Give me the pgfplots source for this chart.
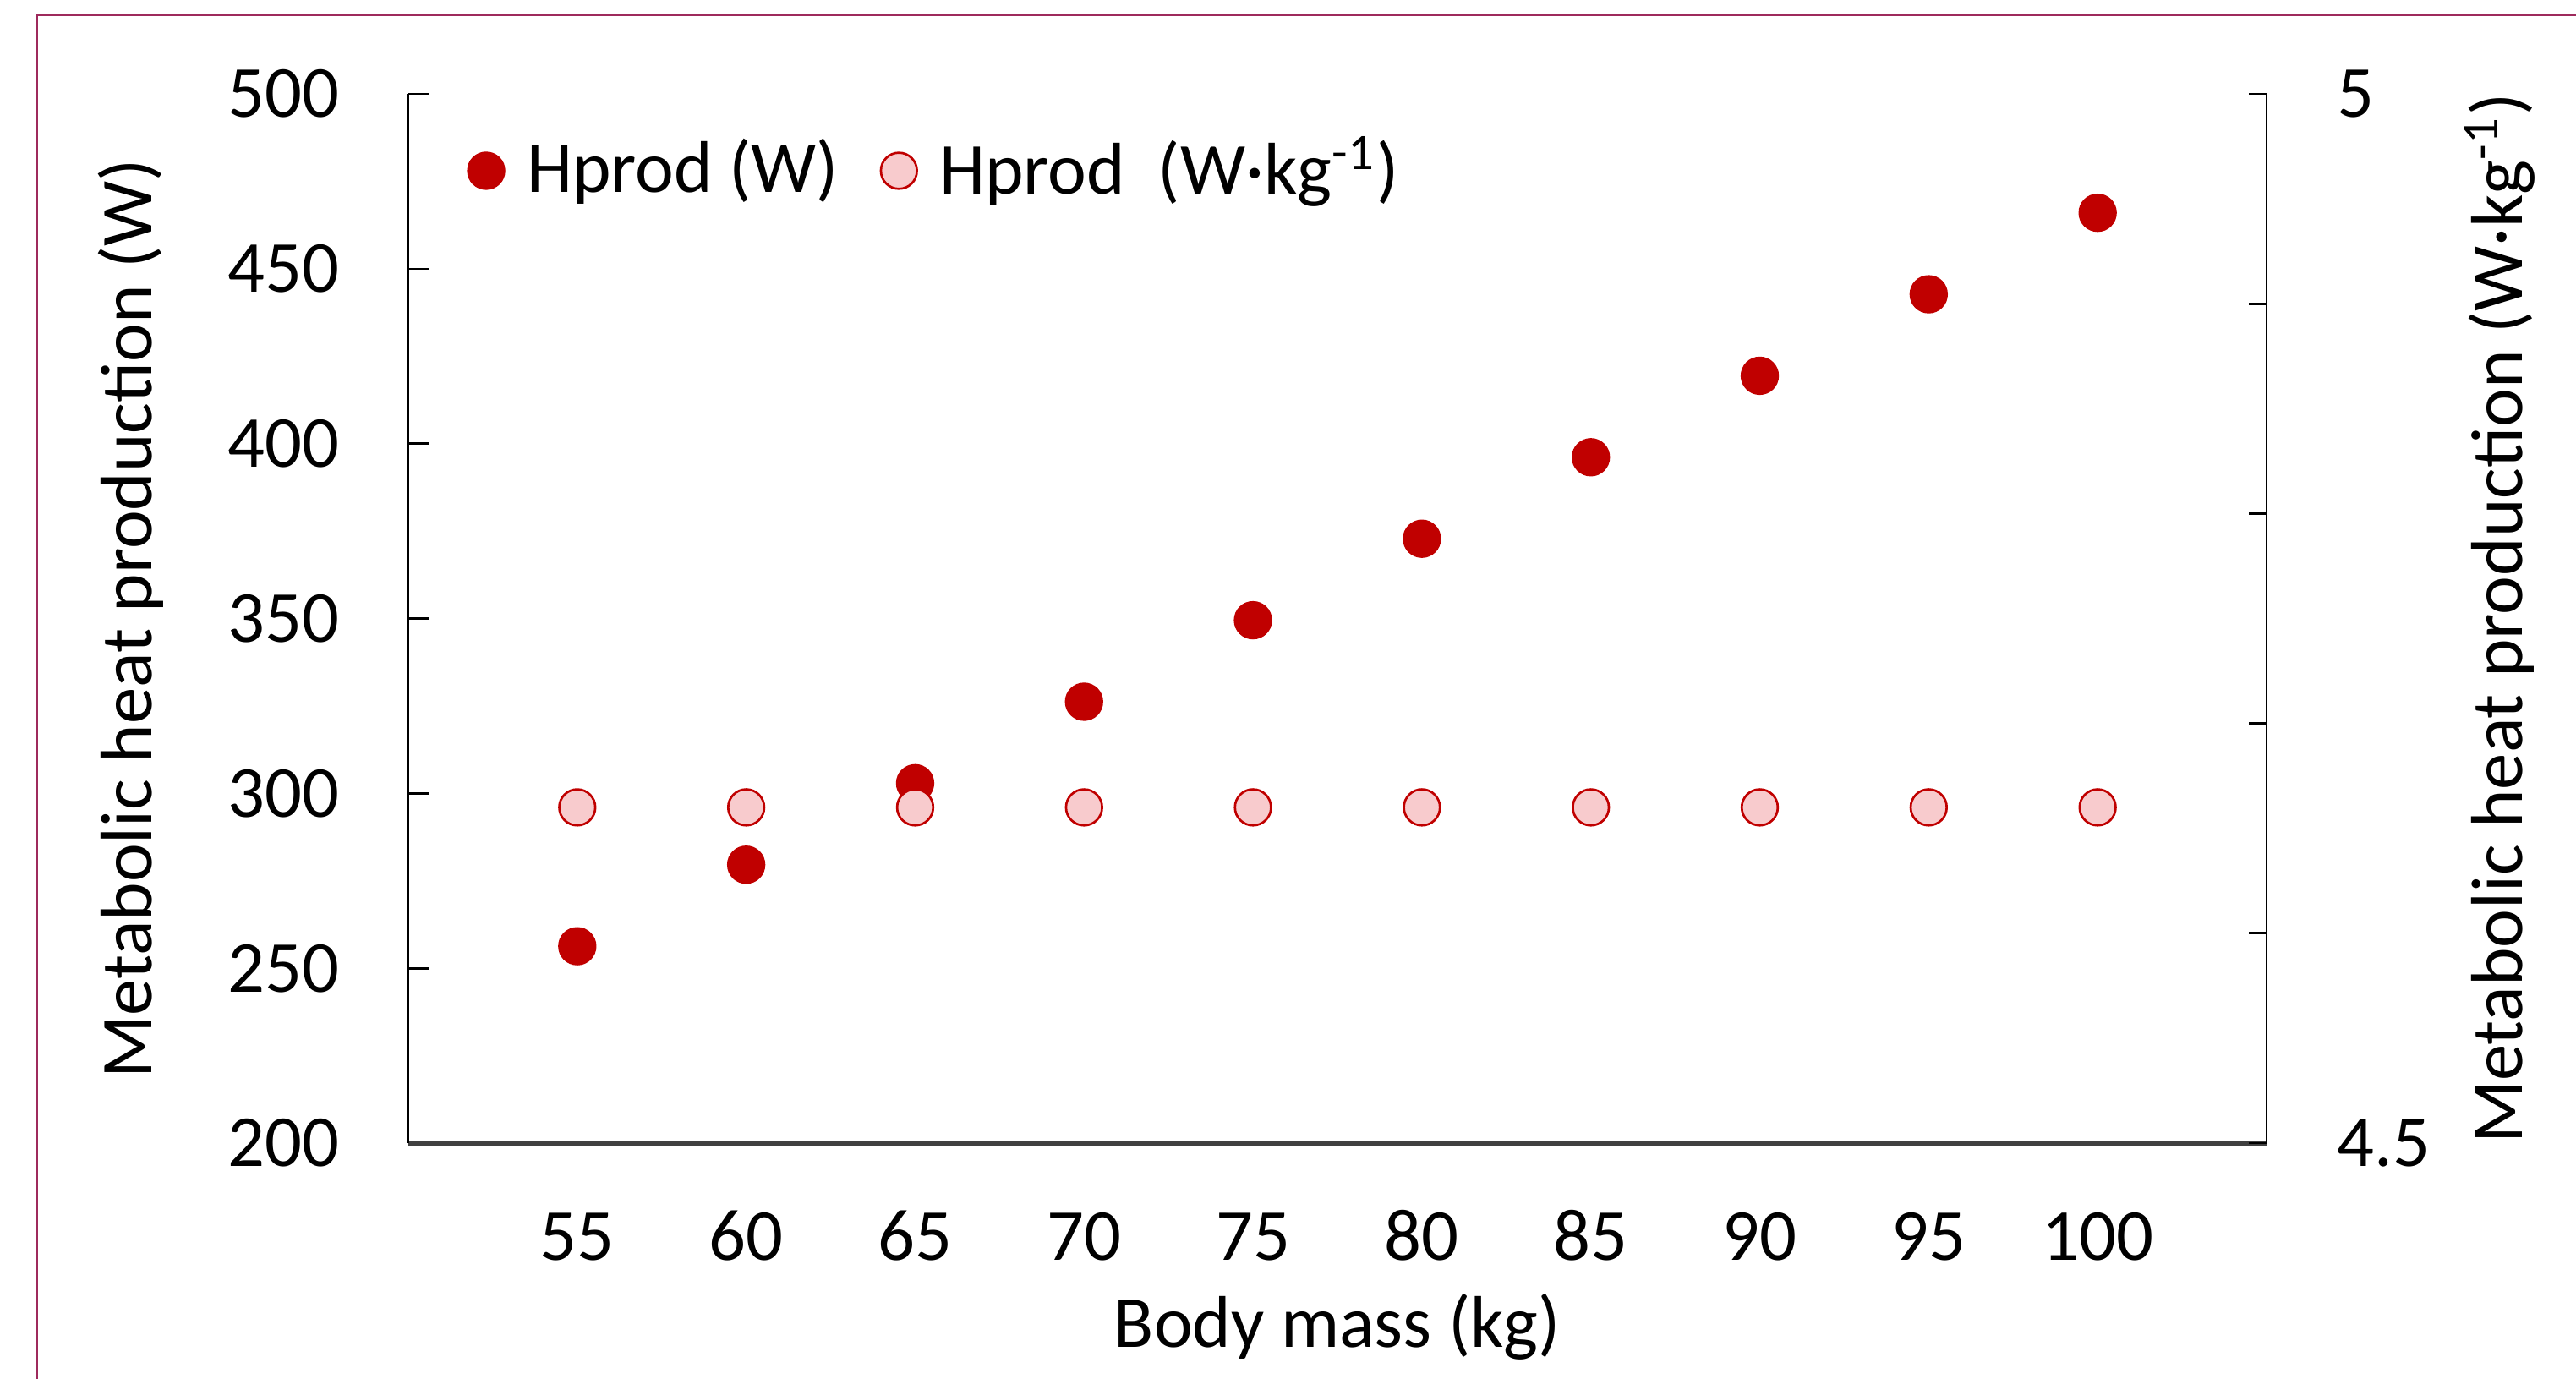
\documentclass[border=0pt]{standalone}
\usepackage{fontspec}
\setmainfont{Carlito}
\usepackage{pgfplots}
\pgfplotsset{compat=1.18}
\definecolor{darkred}{HTML}{C00000}
\definecolor{lightpink}{RGB}{248,203,205}
\definecolor{framecol}{RGB}{158,42,92}
\begin{document}
\fontsize{13}{15.6}\selectfont
\begin{tikzpicture}
\useasboundingbox (-72.45pt,-41.7pt) rectangle (384.6pt,202.8pt);
\draw[framecol, line width=0.35pt] (-65.85pt,-60pt) -- (-65.85pt,200.1pt) -- (420pt,200.1pt);
\begin{axis}[
  at={(0pt,0pt)}, anchor=south west,
  scale only axis, width=329.7pt, height=186.15pt,
  xmin=50, xmax=105, ymin=200, ymax=500,
  axis x line*=bottom, axis y line*=left,
  axis line style={-},
  x axis line style={line width=0.9pt, draw=black!75},
  y axis line style={line width=0.4pt, draw=black},
  xtick={55,60,65,70,75,80,85,90,95,100},
  ytick={200,250,300,350,400,450,500},
  x tick style={draw=none},
  y tick style={black, line width=0.4pt},
  tick align=inside, major tick length=3.6pt,
  /pgf/number format/assume math mode=true,
  /pgf/number format/1000 sep={},
  xticklabel style={anchor=base, inner sep=0pt, yshift=-20.7pt},
  yticklabel style={anchor=east, inner sep=0pt, xshift=-12pt},
  xlabel={Body mass (kg)},
  xlabel style={at={(axis description cs:0.5,-0.1945)}, anchor=base, inner sep=0pt},
  ylabel={Metabolic heat production (W)},
  ylabel style={at={(axis description cs:-0.1492,0.5)}, anchor=center, inner sep=0pt},
]
\addplot[only marks, mark=*, mark size=3.2pt, mark options={fill=darkred, draw=darkred}]
  coordinates {(55,256.3) (60,279.6) (65,302.9) (70,326.2) (75,349.5) (80,372.8) (85,396.1) (90,419.4) (95,442.7) (100,466.0)};
\end{axis}
\begin{axis}[
  at={(0pt,0pt)}, anchor=south west,
  scale only axis, width=329.7pt, height=186.15pt,
  xmin=50, xmax=105, ymin=4.5, ymax=5,
  axis x line=none, axis y line*=right,
  axis line style={-, line width=0.4pt, black},
  ytick={4.5,4.6,4.7,4.8,4.9,5},
  yticklabels={4.5,{},{},{},{},5},
  y tick style={black, line width=0.4pt},
  tick align=inside, major tick length=3.2pt,
  yticklabel style={anchor=west, inner sep=0pt, xshift=12.3pt},
  ylabel={Metabolic heat production (W·kg\textsuperscript{-1})},
  ylabel style={at={(axis description cs:1.1256,0.5)}, anchor=center, inner sep=0pt, rotate=0},
  legend columns=2,
  legend image code/.code={\draw[#1] plot coordinates {(0pt,0pt)};},
  legend style={draw=none, fill=none, inner sep=0pt, outer sep=0pt,
    at={(axis description cs:0.0322,0.9267)}, anchor=west,
    column sep=4pt, nodes={inner sep=0pt}},
]
\addlegendimage{only marks, mark=*, mark size=3.2pt, mark options={fill=darkred, draw=darkred}}
\addlegendentry{Hprod (W)\rule{3.5pt}{0pt}}
\addplot[only marks, mark=*, mark size=3.2pt, mark options={fill=lightpink, draw=darkred, line width=0.4pt}]
  coordinates {(55,4.66) (60,4.66) (65,4.66) (70,4.66) (75,4.66) (80,4.66) (85,4.66) (90,4.66) (95,4.66) (100,4.66)};
\addlegendentry{Hprod\ \ (W·kg\textsuperscript{-1})}
\end{axis}
\end{tikzpicture}
\end{document}
